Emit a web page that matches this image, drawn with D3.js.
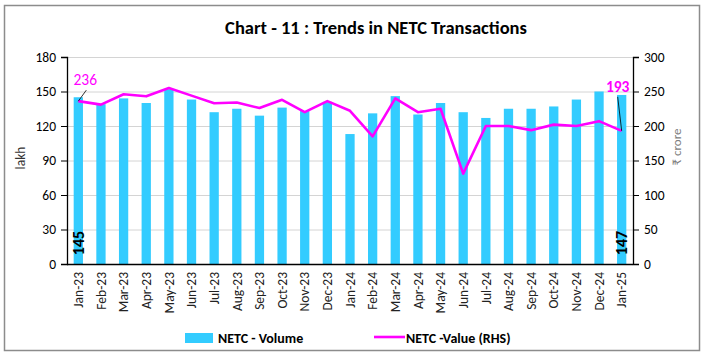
<!DOCTYPE html>
<html><head><meta charset="utf-8">
<script src="https://cdn.jsdelivr.net/npm/d3@7"></script>
<style>body{margin:0;background:#fff;} svg{display:block;font-family:Carlito,Calibri,"Open Sans",sans-serif;}</style>
</head><body><svg id="c" width="705" height="356"></svg>
<script>
const months = ["Jan-23","Feb-23","Mar-23","Apr-23","May-23","Jun-23","Jul-23","Aug-23","Sep-23","Oct-23","Nov-23","Dec-23","Jan-24","Feb-24","Mar-24","Apr-24","May-24","Jun-24","Jul-24","Aug-24","Sep-24","Oct-24","Nov-24","Dec-24","Jan-25"];
const volume = [145,139,144,140,152,143,132,135,129,136,133,141,113,131,146,130,140,132,127,135,135,137,143,150,147];
const value = [236,231,246,243,255,244,233,234,226,238,220,236,222,185,240,220,225,131,200,200,194,202,200,207,193];
const leftTicks = [0,30,60,90,120,150,180];
const rightTicks = [0,50,100,150,200,250,300];
const title = "Chart - 11 : Trends in NETC Transactions";

const svg = d3.select("#c");
const m = {l:67, r:633, t:57, b:264};
svg.append("rect").attr("x",4.5).attr("y",5.5).attr("width",695).attr("height",345).attr("fill","#fff").attr("stroke","#8c8c8c").attr("stroke-width",1.5);

const x = d3.scaleBand().domain(months).range([m.l, m.r]).paddingInner(0.59).paddingOuter(0.295);
const yL = d3.scaleLinear().domain([0,180]).range([m.b, m.t]);
const yR = d3.scaleLinear().domain([0,300]).range([m.b, m.t]);
const cx = d => x(d) + x.bandwidth()/2;

// gridlines
svg.append("g").selectAll("line").data(leftTicks.filter(t=>t>0)).join("line")
  .attr("x1",m.l).attr("x2",m.r).attr("y1",d=>yL(d)+0.5).attr("y2",d=>yL(d)+0.5)
  .attr("stroke","#d4d4d4").attr("stroke-width",1);

// bars
svg.append("g").selectAll("rect").data(months).join("rect")
  .attr("x",d=>x(d)).attr("width",x.bandwidth())
  .attr("y",(d,i)=>yL(volume[i])).attr("height",(d,i)=>m.b-yL(volume[i]))
  .attr("fill","#33CCFF");

// axes
const axL = svg.append("g").attr("transform",`translate(${m.l},0)`)
  .call(d3.axisLeft(yL).tickValues(leftTicks).tickSize(6).tickPadding(5));
const axR = svg.append("g").attr("transform",`translate(${m.r},0)`)
  .call(d3.axisRight(yR).tickValues(rightTicks).tickSize(6).tickPadding(5));
const axB = svg.append("g").attr("transform",`translate(0,${m.b})`)
  .call(d3.axisBottom(x).tickSize(0).tickPadding(8));
[axL,axR,axB].forEach(a=>{
  a.selectAll("path.domain").attr("stroke","#000").attr("stroke-width",1.3);
  a.selectAll("line").attr("stroke","#000");
  a.selectAll("text").attr("font-family","Carlito,Calibri,'Open Sans',sans-serif").attr("font-size",13.5).attr("fill","#000");
});
axB.select("path.domain").attr("d",`M${m.l},0.5H${m.r}`);
axB.selectAll("text").attr("transform","rotate(-90)").attr("text-anchor","end")
  .attr("x",-8).attr("y",0).attr("dy","0.35em").attr("font-size",13.5).attr("fill","#222");

// axis titles
svg.append("text").attr("transform","translate(25,158) rotate(-90)").attr("text-anchor","middle")
  .attr("font-size",13.5).attr("fill","#333").text("lakh");
svg.append("text").attr("transform","translate(681,147) rotate(-90)").attr("text-anchor","middle")
  .attr("font-size",13).attr("fill","#808080").text("₹ crore");

// line
const line = d3.line().x((d,i)=>cx(months[i])).y(d=>yR(d));
svg.append("path").datum(value).attr("d",line).attr("fill","none")
  .attr("stroke","#FF00FF").attr("stroke-width",2.6).attr("stroke-linejoin","round");

// data labels
const n = months.length-1;
svg.append("line").attr("x1",cx(months[0])).attr("y1",yR(value[0])).attr("x2",cx(months[0])+8).attr("y2",yR(value[0])-11)
  .attr("stroke","#000").attr("stroke-width",0.8);
svg.append("text").attr("x",cx(months[0])+7).attr("y",yR(value[0])-16).attr("text-anchor","middle")
  .attr("font-size",15.5).attr("fill","#FF00FF").text(value[0]);
svg.append("line").attr("x1",cx(months[n])).attr("y1",yR(value[n])).attr("x2",cx(months[n])-4).attr("y2",yR(value[n])-34)
  .attr("stroke","#000").attr("stroke-width",0.8);
svg.append("text").attr("x",cx(months[n])-4).attr("y",yR(value[n])-39).attr("text-anchor","middle")
  .attr("font-size",15.5).attr("font-weight","bold").attr("fill","#FF00FF").text(value[n]);
[0,n].forEach(i=>{
  svg.append("text").attr("transform",`translate(${cx(months[i])},243) rotate(-90)`).attr("text-anchor","middle")
    .attr("dy","0.35em").attr("font-size",16).attr("font-weight","bold").attr("fill","#000").text(volume[i]);
});

// title
svg.append("text").attr("x",376).attr("y",34).attr("text-anchor","middle")
  .attr("font-size",18.5).attr("font-weight","bold").attr("fill","#000").text(title);

// legend
svg.append("rect").attr("x",185).attr("y",333).attr("width",28).attr("height",10).attr("fill","#33CCFF");
svg.append("text").attr("x",218).attr("y",342.5).attr("font-size",14).attr("font-weight","bold").text("NETC - Volume");
svg.append("line").attr("x1",374).attr("x2",405).attr("y1",337).attr("y2",337).attr("stroke","#FF00FF").attr("stroke-width",2.6);
svg.append("text").attr("x",406).attr("y",342.5).attr("font-size",14).attr("font-weight","bold").text("NETC -Value (RHS)");
</script></body></html>
